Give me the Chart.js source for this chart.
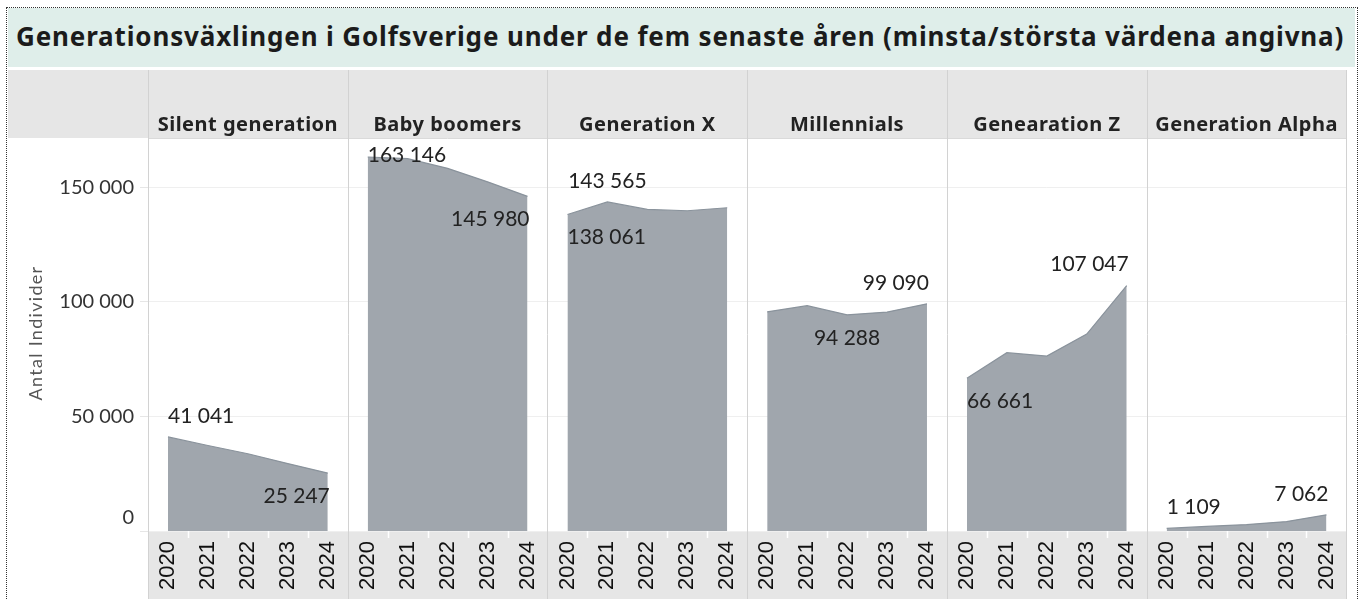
<!DOCTYPE html>
<html lang="sv">
<head>
<meta charset="utf-8">
<title>Generationsväxlingen i Golfsverige</title>
<script src="https://cdn.jsdelivr.net/npm/chart.js@4.4.1/dist/chart.umd.min.js"></script>
<style>
  body { margin: 0; background: #fff; }
  #wrap { position: relative; width: 1363px; height: 599px; overflow: hidden; }
  #frame {
    position: absolute; left: 6px; top: 7px; width: 1350px; height: 620px;
    border: 1px dotted #333; pointer-events: none; z-index: 3;
  }
  #title {
    position: absolute; left: 8px; top: 8px; width: 1339px; height: 59px;
    padding-left: 8px; background: #dfeeea; z-index: 2;
    font: bold 26px "Noto Sans", sans-serif; letter-spacing: 0.85px; color: #1b1b1b;
    line-height: 57px; white-space: nowrap;
  }
  canvas { position: absolute; left: 0; top: 0; }
</style>
</head>
<body>
<div id="wrap">
  <div id="title">Generationsväxlingen i Golfsverige under de fem senaste åren (minsta/största värdena angivna)</div>
  <div id="frame"></div>
  <canvas id="genChart" width="1363" height="599"></canvas>
</div>
<script>
const generations = ["Silent generation", "Baby boomers", "Generation X", "Millennials", "Genearation Z", "Generation Alpha"];
const years = ["2020", "2021", "2022", "2023", "2024"];

const silent = [41041, 37300, 33700, 29400, 25247];
const babyBoomers = [163146, 162400, 158200, 152300, 145980];
const genX = [138061, 143565, 140300, 139700, 141000];
const millennials = [95600, 98300, 94288, 95500, 99090];
const genZ = [66661, 77800, 76300, 85900, 107047];
const genAlpha = [1109, 2000, 2800, 4100, 7062];

const yTicks = [0, 50000, 100000, 150000];

const series = [silent, babyBoomers, genX, millennials, genZ, genAlpha];

function fmt(v) {
  return String(v).replace(/\B(?=(\d{3})+(?!\d))/g, " ");
}

const labels = generations.flatMap(() => years);
const datasets = series.map((vals, g) => {
  const data = labels.map(() => null);
  vals.forEach((v, i) => { data[g * years.length + i] = v; });
  return {
    label: generations[g],
    data: data,
    fill: "origin",
    backgroundColor: "#a0a6ad",
    borderColor: "#8a939c",
    borderWidth: 1.2,
    pointRadius: 0,
    tension: 0,
    spanGaps: false
  };
});

const chrome = {
  id: "chrome",
  beforeDraw(chart) {
    const { ctx, chartArea: a } = chart;
    ctx.save();
    ctx.fillStyle = "#e6e6e6";
    ctx.fillRect(8, 70, a.right - 8, a.top - 1 - 70);
    ctx.fillRect(a.left, a.bottom, a.right - a.left, chart.height - a.bottom);
    ctx.restore();
  },
  beforeDatasetsDraw(chart) {
    const { ctx, chartArea: a, scales: { x, y } } = chart;
    const n = years.length;
    ctx.save();
    // white ticks in the year band
    ctx.strokeStyle = "#ffffff";
    ctx.lineWidth = 1.5;
    for (let i = 0; i < labels.length; i++) {
      if (i % n === 0) continue;
      const px = Math.round(x.getPixelForValue(i - 0.5)) + 0.5;
      ctx.beginPath(); ctx.moveTo(px, a.bottom); ctx.lineTo(px, a.bottom + 7); ctx.stroke();
    }
    // header bottom line
    ctx.strokeStyle = "#dadada";
    ctx.lineWidth = 1;
    ctx.beginPath(); ctx.moveTo(a.left, a.top - 0.5); ctx.lineTo(a.right, a.top - 0.5); ctx.stroke();
    // panel dividers
    ctx.strokeStyle = "#d2d2d2";
    for (let g = 0; g <= generations.length; g++) {
      const px = Math.round(x.getPixelForValue(g * n - 0.5)) + 0.5;
      ctx.beginPath(); ctx.moveTo(px, 70); ctx.lineTo(px, chart.height); ctx.stroke();
    }
    // panel titles
    ctx.fillStyle = "#222";
    ctx.font = 'bold 20px "Noto Sans", sans-serif';
    ctx.letterSpacing = "0.5px";
    ctx.textAlign = "center";
    ctx.textBaseline = "alphabetic";
    generations.forEach((name, g) => {
      const cx = (x.getPixelForValue(g * n - 0.5) + x.getPixelForValue(g * n + n - 0.5)) / 2;
      ctx.fillText(name, cx, 131);
    });
    // y axis title
    ctx.save();
    ctx.fillStyle = "#555";
    ctx.font = '18px Lato, sans-serif';
    ctx.letterSpacing = "1.3px";
    ctx.textAlign = "center";
    ctx.textBaseline = "middle";
    ctx.translate(36, (a.top + a.bottom) / 2 - 2);
    ctx.rotate(-Math.PI / 2);
    ctx.fillText("Antal Individer", 0, 0);
    ctx.restore();
    // zero tick, lifted like the original
    ctx.letterSpacing = "0px";
    ctx.fillStyle = "#333";
    ctx.font = '20px Lato, sans-serif';
    ctx.textAlign = "right";
    ctx.textBaseline = "middle";
    ctx.fillText("0", a.left - 14, y.getPixelForValue(0) - 13);
    ctx.restore();
  },
  afterDatasetsDraw(chart) {
    const { ctx, chartArea: a } = chart;
    const n = years.length;
    ctx.save();
    ctx.fillStyle = "#222";
    ctx.font = '21px Lato, sans-serif';
    ctx.textBaseline = "middle";
    series.forEach((vals, g) => {
      const meta = chart.getDatasetMeta(g);
      const iMax = vals.indexOf(Math.max(...vals));
      const iMin = vals.indexOf(Math.min(...vals));
      [[iMax, -21], [iMin, 23]].forEach(([i, dy]) => {
        const pt = meta.data[g * n + i];
        ctx.textAlign = i === 0 ? "left" : i === n - 1 ? "right" : "center";
        let ty = pt.y + dy;
        if (ty - 10 < a.top) ty = a.top + 16;
        if (ty + 10 > a.bottom) ty = pt.y - 21;
        ctx.fillText(fmt(vals[i]), pt.x + (i === n - 1 ? 2 : 0), ty);
      });
    });
    ctx.restore();
  }
};

new Chart(document.getElementById("genChart"), {
  type: "line",
  data: { labels: labels, datasets: datasets },
  options: {
    responsive: false,
    animation: false,
    layout: { padding: { top: 139, right: 9, left: 0, bottom: 0 } },
    plugins: { legend: { display: false }, tooltip: { enabled: false } },
    scales: {
      x: {
        type: "category",
        offset: true,
        grid: { display: false, drawTicks: false },
        border: { display: false },
        ticks: {
          autoSkip: false,
          minRotation: 90,
          maxRotation: 90,
          padding: 10,
          color: "#111",
          font: { family: "Liberation Sans", size: 22 }
        },
        afterFit(s) { s.height = 68; }
      },
      y: {
        min: 0,
        max: 171000,
        afterBuildTicks(s) { s.ticks = yTicks.map(v => ({ value: v })); },
        ticks: {
          padding: 6,
          color: "#333",
          font: { family: "Lato", size: 20 },
          callback: v => (v === 0 ? "" : fmt(v))
        },
        grid: { color: "#efefef", tickLength: 8, tickColor: "#e6e6e6" },
        border: { display: false },
        title: { display: false },
        afterFit(s) { s.width = 148; }
      }
    }
  },
  plugins: [chrome]
});
</script>
</body>
</html>
